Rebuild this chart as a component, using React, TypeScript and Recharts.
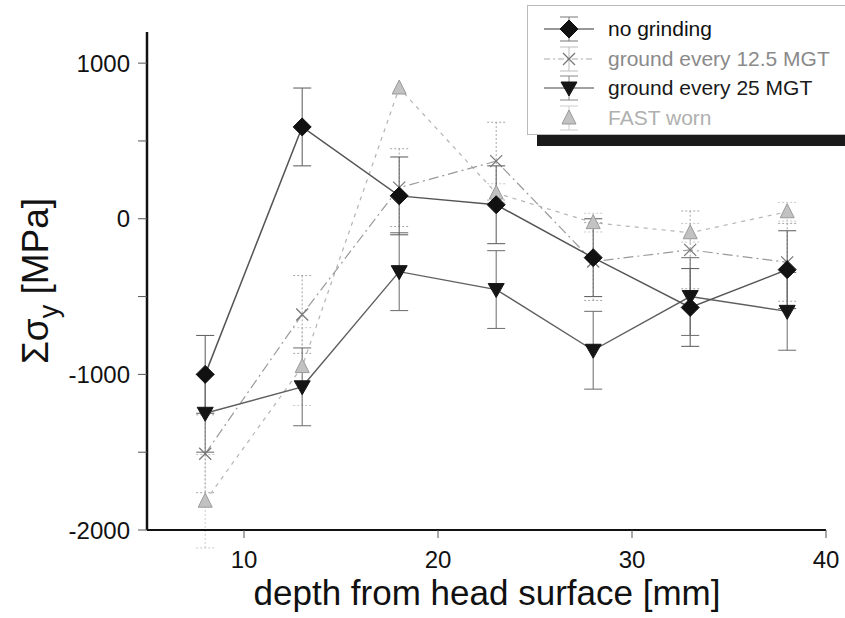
import React from 'react';
import { LineChart, Line, XAxis, YAxis, ErrorBar, Label } from 'recharts';

const depth = [8, 13, 18, 23, 28, 33, 38];
const noGrinding = [-1000, 590, 147, 90, -250, -570, -327];
const ground125 = [-1510, -615, 200, 370, -275, -200, -280];
const ground25 = [-1250, -1080, -340, -455, -845, -500, -595];
const fastWorn = [-1815, -950, 840, 165, -25, -90, 45];
const errNoGrinding = [250, 250, 250, 250, 250, 250, 250];
const err125 = [250, 250, 250, 250, 250, 250, 250];
const err25 = [250, 250, 250, 250, 250, 250, 250];
const errFast = [300, 250, 0, 60, 60, 60, 60];
const xTicks = [10, 20, 30, 40];
const yTicks = [-2000, -1500, -1000, -500, 0, 500, 1000];
const legendLabels = ['no grinding', 'ground every 12.5 MGT', 'ground every 25 MGT', 'FAST worn'];

const data = depth.map((d, i) => ({
  depth: d,
  noGrinding: noGrinding[i],
  ground125: ground125[i],
  ground25: ground25[i],
  fastWorn: fastWorn[i],
  errNoGrinding: errNoGrinding[i],
  err125: err125[i],
  err25: err25[i],
  errFast: errFast[i],
}));

const FONT = '"Liberation Sans", Arial, Helvetica, sans-serif';

const Diamond = (p: any) => {
  const { cx, cy } = p;
  if (cx == null || cy == null) return null;
  const s = 9;
  return <polygon points={`${cx},${cy - s} ${cx + s},${cy} ${cx},${cy + s} ${cx - s},${cy}`} fill="#111" stroke="#111" strokeWidth={1} />;
};
const TriDown = (p: any) => {
  const { cx, cy } = p;
  if (cx == null || cy == null) return null;
  return <polygon points={`${cx - 8},${cy - 6} ${cx + 8},${cy - 6} ${cx},${cy + 8}`} fill="#151515" stroke="#151515" strokeWidth={1} />;
};
const Cross = (p: any) => {
  const { cx, cy } = p;
  if (cx == null || cy == null) return null;
  const s = 6;
  return (
    <g stroke="#777" strokeWidth={1.2}>
      <line x1={cx - s} y1={cy - s} x2={cx + s} y2={cy + s} />
      <line x1={cx - s} y1={cy + s} x2={cx + s} y2={cy - s} />
    </g>
  );
};
const TriUp = (p: any) => {
  const { cx, cy } = p;
  if (cx == null || cy == null) return null;
  return <polygon points={`${cx - 7},${cy + 6} ${cx + 7},${cy + 6} ${cx},${cy - 8}`} fill="#c2c2c2" stroke="#9a9a9a" strokeWidth={1} />;
};

const YLabel = () => (
  <text
    x={48}
    y={281}
    transform="rotate(-90, 48, 281)"
    textAnchor="middle"
    fontFamily={FONT}
    fontSize={37}
    fill="#111"
  >
    Σσ<tspan dy={10} fontSize={27}>y</tspan>
    <tspan dy={-10}> [MPa]</tspan>
  </text>
);

const XLabel = () => (
  <text x={487} y={605} textAnchor="middle" fontFamily={FONT} fontSize={35} fill="#111">
    depth from head surface [mm]
  </text>
);

const LegendSample = ({ kind }: { kind: number }) => {
  const cx = 27;
  const cy = 14;
  const lineProps = [
    { stroke: '#333', strokeDasharray: undefined },
    { stroke: '#aaa', strokeDasharray: '6 3 2 3' },
    { stroke: '#444', strokeDasharray: undefined },
    { stroke: '#ccc', strokeDasharray: '3 3' },
  ][kind];
  const capColor = ['#777', '#bbb', '#888', '#ccc'][kind];
  return (
    <svg width={56} height={28} style={{ display: 'block' }}>
      {kind !== 3 && <line x1={2} y1={cy} x2={52} y2={cy} strokeWidth={1.2} {...lineProps} />}
      <line x1={cx} y1={2} x2={cx} y2={26} stroke={capColor} strokeWidth={1} />
      <line x1={cx - 9} y1={2} x2={cx + 9} y2={2} stroke={capColor} strokeWidth={1} />
      <line x1={cx - 9} y1={26} x2={cx + 9} y2={26} stroke={capColor} strokeWidth={1} />
      {kind === 0 && <Diamond cx={cx} cy={cy} />}
      {kind === 1 && <Cross cx={cx} cy={cy} />}
      {kind === 2 && <TriDown cx={cx} cy={cy} />}
      {kind === 3 && <TriUp cx={cx} cy={cy} />}
    </svg>
  );
};

const legendColors = ['#111', '#8a8a8a', '#1a1a1a', '#b0b0b0'];

export default function App() {
  return (
    <div
      style={{
        position: 'absolute',
        left: 0,
        top: 0,
        width: 845,
        height: 618,
        overflow: 'hidden',
        background: '#fff',
        fontFamily: FONT,
      }}
    >
      <LineChart width={845} height={618} data={data} margin={{ top: 32, right: 19, left: 0, bottom: 0 }}>
        <XAxis
          type="number"
          dataKey="depth"
          domain={[5, 40]}
          ticks={xTicks}
          height={88}
          tickSize={8}
          tickMargin={13}
          stroke="#111"
          strokeWidth={2}
          tick={{ fontSize: 24, fill: '#111', fontFamily: FONT }}
          tickLine={{ stroke: '#555', strokeWidth: 1 }}
          label={<XLabel />}
        />
        <YAxis
          type="number"
          domain={[-2000, 1200]}
          allowDataOverflow
          ticks={yTicks}
          width={147}
          tickSize={9}
          tickMargin={8}
          stroke="#111"
          strokeWidth={2.5}
          tick={{ fontSize: 24, fill: '#111', fontFamily: FONT }}
          tickLine={{ stroke: '#555', strokeWidth: 1 }}
          tickFormatter={(v: number) => (v % 1000 === 0 ? String(v) : '')}
          label={<YLabel />}
        />
        <Line
          dataKey="fastWorn"
          stroke="#b5b5b5"
          strokeWidth={1.2}
          strokeDasharray="4 5"
          dot={<TriUp />}
          activeDot={false}
          isAnimationActive={false}
        >
          <ErrorBar dataKey="errFast" width={9} stroke="#c8c8c8" strokeWidth={1} strokeDasharray="2 2" direction="y" isAnimationActive={false} />
        </Line>
        <Line
          dataKey="ground125"
          stroke="#9a9a9a"
          strokeWidth={1.2}
          strokeDasharray="10 4 2 4"
          dot={<Cross />}
          activeDot={false}
          isAnimationActive={false}
        >
          <ErrorBar dataKey="err125" width={9} stroke="#a5a5a5" strokeWidth={1} strokeDasharray="2 2" direction="y" isAnimationActive={false} />
        </Line>
        <Line
          dataKey="ground25"
          stroke="#5f5f5f"
          strokeWidth={1.4}
          dot={<TriDown />}
          activeDot={false}
          isAnimationActive={false}
        >
          <ErrorBar dataKey="err25" width={9} stroke="#777" strokeWidth={1.1} direction="y" isAnimationActive={false} />
        </Line>
        <Line
          dataKey="noGrinding"
          stroke="#555"
          strokeWidth={1.5}
          dot={<Diamond />}
          activeDot={false}
          isAnimationActive={false}
        >
          <ErrorBar dataKey="errNoGrinding" width={9} stroke="#666" strokeWidth={1.1} direction="y" isAnimationActive={false} />
        </Line>
      </LineChart>
      <div
        style={{
          position: 'absolute',
          left: 527,
          top: 5,
          width: 330,
          height: 130,
          border: '1px solid #bbb',
          background: '#fff',
          boxShadow: '10px 11px 0 0 #1a1a1a',
          boxSizing: 'border-box',
        }}
      >
        {legendLabels.map((lab, i) => (
          <div
            key={lab}
            style={{
              position: 'absolute',
              left: 14,
              top: 9 + i * 29.5,
              height: 28,
              display: 'flex',
              alignItems: 'center',
              whiteSpace: 'nowrap',
            }}
          >
            <LegendSample kind={i} />
            <span style={{ marginLeft: 10, fontSize: 21, color: legendColors[i], lineHeight: '28px' }}>{lab}</span>
          </div>
        ))}
      </div>
    </div>
  );
}
